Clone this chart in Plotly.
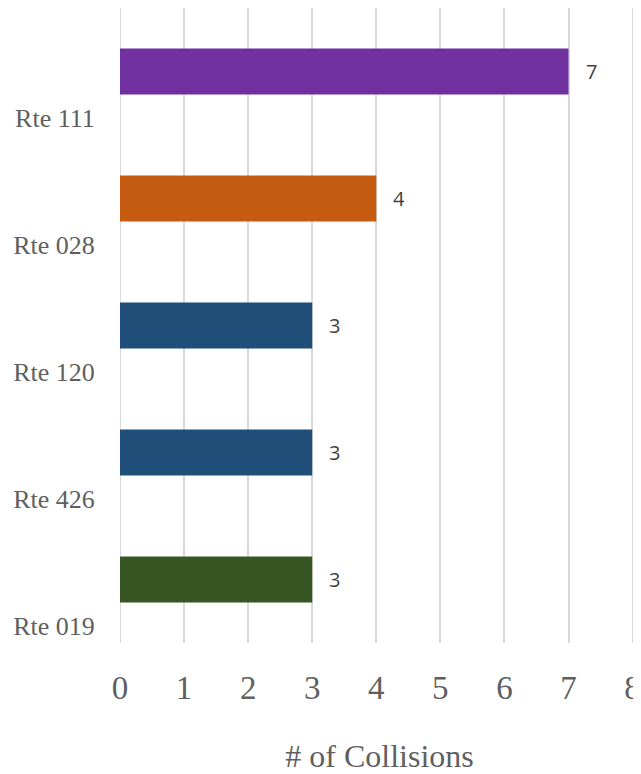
import plotly.graph_objects as go

categories = ["Rte 111", "Rte 028", "Rte 120", "Rte 426", "Rte 019"]
values = [7, 4, 3, 3, 3]
colors = ["#7030A0", "#C55A11", "#1F4E79", "#1F4E79", "#375623"]
x_ticks = [0, 1, 2, 3, 4, 5, 6, 7, 8]

positions = list(range(len(categories)))
label_offset = 0.362

fig = go.Figure()
fig.add_trace(go.Bar(
    x=values, y=positions, orientation="h",
    marker=dict(color=colors, line=dict(width=0)),
    width=0.362, hoverinfo="skip",
))

for v, p in zip(values, positions):
    fig.add_annotation(
        x=v, y=p, text=str(v), showarrow=False, xanchor="left", yanchor="middle",
        xshift=15, font=dict(family="Open Sans, sans-serif", size=20, color="#404040"),
    )

grey = "#5f5f5f"
fig.update_layout(
    width=633, height=766,
    margin=dict(l=112, r=2, t=0, b=131),
    plot_bgcolor="white", paper_bgcolor="white",
    showlegend=False,
    xaxis=dict(
        range=[0, 8.1], tickvals=x_ticks, showgrid=True, gridcolor="#D9D9D9", gridwidth=2,
        zeroline=False, showline=False, automargin=False,
        ticks="outside", ticklen=15, tickcolor="rgba(0,0,0,0)",
        tickfont=dict(family="Liberation Serif, serif", size=33, color=grey),
        title=dict(text="# of Collisions", standoff=43,
                   font=dict(family="Liberation Serif, serif", size=32, color=grey)),
    ),
    yaxis=dict(
        range=[4.5, -0.5], showgrid=False, zeroline=False, showline=False, automargin=False,
        tickvals=[p + label_offset for p in positions], ticktext=categories,
        ticks="outside", ticklen=19, tickcolor="rgba(0,0,0,0)",
        tickfont=dict(family="Liberation Serif, serif", size=26, color=grey),
    ),
)
fig.add_shape(type="line", xref="x", yref="paper", x0=0, x1=0, y0=0, y1=1,
              line=dict(color="#D9D9D9", width=2), layer="below")

fig.write_html("out.html")
